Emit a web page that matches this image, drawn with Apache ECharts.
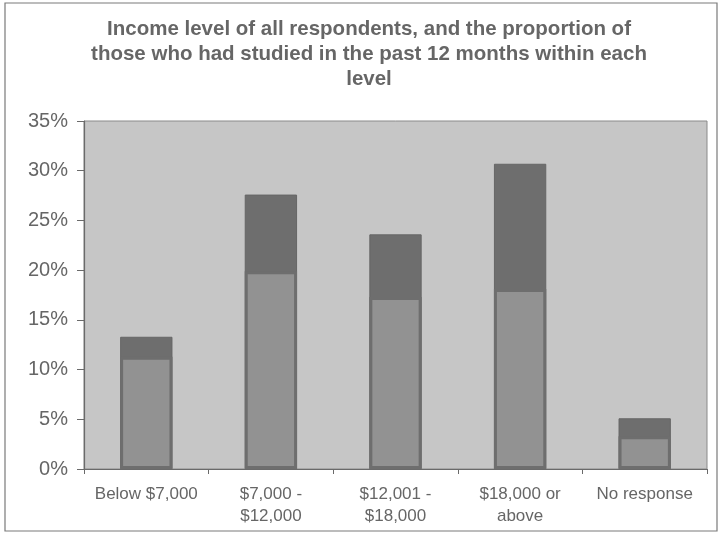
<!DOCTYPE html>
<html>
<head>
<meta charset="utf-8">
<script src="https://cdn.jsdelivr.net/npm/echarts@6/dist/echarts.min.js"></script>
<style>
  html, body { margin: 0; padding: 0; background: #ffffff; }
  #chart { width: 718px; height: 534px; }
</style>
</head>
<body>
<div id="chart"></div>
<script>
// Income bands (x-axis categories)
const categories = ['Below $7,000', '$7,000 -\n$12,000', '$12,001 -\n$18,000', '$18,000 or\nabove', 'No response'];
// Share of all respondents in each income band (%)
const allRespondents = [13.3, 27.6, 23.6, 30.7, 5.1];
// Share who had studied in the past 12 months, within each band (%)
const studiedPast12 = [11.3, 19.9, 17.3, 18.1, 3.3];
// Y-axis tick values (%)
const yTicks = [0, 5, 10, 15, 20, 25, 30, 35];

const chart = echarts.init(document.getElementById('chart'), null, { renderer: 'canvas' });

const textGray = '#666666';
const darkBar = '#6e6e6e';
const lightBar = '#929292';
const font = 'Liberation Sans, Arial, sans-serif';

chart.setOption({
  animation: false,
  backgroundColor: '#ffffff',
  title: {
    text: 'Income level of all respondents, and the proportion of\nthose who had studied in the past 12 months within each\nlevel',
    left: 364,
    textAlign: 'center',
    top: 12,
    textStyle: {
      fontFamily: font,
      fontSize: 20.5,
      fontWeight: 'bold',
      color: textGray,
      lineHeight: 25
    }
  },
  graphic: [{
    type: 'rect',
    shape: { x: 5, y: 3, width: 712, height: 528 },
    style: { fill: 'none', stroke: '#7a7a7a', lineWidth: 1.2 },
    silent: true
  }],
  grid: {
    left: 84,
    right: 11,
    top: 121,
    bottom: 65,
    show: true,
    backgroundColor: '#c6c6c6',
    borderColor: '#8a8a8a',
    borderWidth: 1
  },
  xAxis: {
    type: 'category',
    data: categories,
    axisLine: { show: true, lineStyle: { color: '#6a6a6a', width: 1.2 } },
    axisTick: { show: true, alignWithLabel: false, length: 5, lineStyle: { color: '#6a6a6a' } },
    axisLabel: {
      color: textGray,
      fontFamily: font,
      fontSize: 17,
      lineHeight: 22,
      margin: 14,
      interval: 0
    }
  },
  yAxis: {
    type: 'value',
    min: yTicks[0],
    max: yTicks[yTicks.length - 1],
    interval: 5,
    splitLine: { show: false },
    axisLine: { show: true, lineStyle: { color: '#6a6a6a', width: 1.2 } },
    axisTick: { show: true, length: 7, lineStyle: { color: '#6a6a6a' } },
    axisLabel: {
      formatter: v => v + '%',
      color: textGray,
      fontFamily: font,
      fontSize: 20,
      margin: 16
    }
  },
  series: [
    {
      name: 'All respondents',
      type: 'bar',
      data: allRespondents,
      barWidth: '42%',
      barGap: '-100%',
      itemStyle: { color: darkBar, borderColor: '#666666', borderWidth: 1 }
    },
    {
      name: 'Studied in the past 12 months',
      type: 'bar',
      data: studiedPast12,
      barWidth: '42%',
      barGap: '-100%',
      itemStyle: { color: lightBar, borderColor: darkBar, borderWidth: 3 }
    }
  ]
});
</script>
</body>
</html>
